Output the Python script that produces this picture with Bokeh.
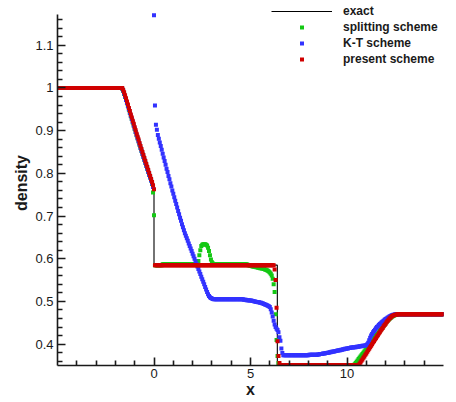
import numpy as np
from bokeh.plotting import figure
from bokeh.models import FixedTicker, Legend, LegendItem, Range1d, ColumnDataSource
from bokeh.embed import file_html
from bokeh.resources import INLINE

# ---- data -------------------------------------------------------------
# cell positions of the numerical solutions (dx = 0.05 on [-5, 15])
X_GRID = np.round(np.arange(401) * 0.05 - 5.0, 2)

# exact solution (polyline)
EXACT_X = [-5.0, -1.65, -1.0, -0.5, 0.0, 0.0, 6.39, 6.39, 10.65, 11.0, 11.5, 12.0, 12.35, 15.0]
EXACT_Y = [1.0, 1.0, 0.908, 0.836, 0.763, 0.585, 0.585, 0.351, 0.351, 0.376, 0.412, 0.447, 0.47, 0.47]

# present scheme
PRESENT_RAREFACTION = [0.996, 0.990, 0.983, 0.976, 0.968, 0.961, 0.953, 0.946, 0.938, 0.931,
                       0.923, 0.916, 0.908, 0.901, 0.893, 0.886, 0.879, 0.871, 0.864, 0.857,
                       0.850, 0.843, 0.836, 0.829, 0.822, 0.815, 0.808, 0.801, 0.794, 0.787,
                       0.780, 0.772, 0.763]
PRESENT_SHOCK = [0.575, 0.550, 0.485, 0.407, 0.372, 0.356]
PRESENT_FAN = [0.354, 0.357, 0.361, 0.364, 0.368, 0.371, 0.375, 0.378, 0.382, 0.386,
               0.389, 0.393, 0.396, 0.400, 0.404, 0.407, 0.411, 0.414, 0.418, 0.421,
               0.425, 0.428, 0.432, 0.435, 0.438, 0.442, 0.445, 0.448, 0.451, 0.454,
               0.457, 0.460, 0.462, 0.464, 0.466, 0.467, 0.468, 0.469, 0.469, 0.470]
PRESENT_Y = ([1.0] * 68 + PRESENT_RAREFACTION + [0.585] * 124 + PRESENT_SHOCK
             + [0.351] * 82 + PRESENT_FAN + [0.47] * 48)

# splitting scheme
SPLIT_RAREFACTION = [0.998, 0.993, 0.986, 0.979, 0.972, 0.964, 0.957, 0.949, 0.942, 0.934,
                     0.927, 0.919, 0.912, 0.904, 0.897, 0.889, 0.882, 0.875, 0.867, 0.860,
                     0.853, 0.846, 0.839, 0.832, 0.825, 0.818, 0.811, 0.804, 0.797, 0.790,
                     0.783, 0.775, 0.755]
SPLIT_BUMP = [0.589, 0.595, 0.608, 0.620, 0.630, 0.633, 0.634, 0.634, 0.634, 0.633,
              0.631, 0.626, 0.618, 0.608, 0.598, 0.592, 0.589]
SPLIT_SHOCK = [0.586, 0.585, 0.584, 0.583, 0.583, 0.582, 0.582, 0.581, 0.581, 0.580,
               0.580, 0.579, 0.579, 0.578, 0.578, 0.577, 0.577, 0.576, 0.575, 0.574,
               0.573, 0.572, 0.570, 0.568, 0.565, 0.561, 0.553, 0.540, 0.522, 0.470,
               0.410, 0.372, 0.356, 0.352]
SPLIT_FAN = [0.353, 0.356, 0.359, 0.362, 0.365, 0.368, 0.371, 0.374, 0.377, 0.380,
             0.383, 0.386, 0.389, 0.392, 0.395, 0.398, 0.401, 0.404, 0.407, 0.410,
             0.413, 0.416, 0.419, 0.422, 0.425, 0.428, 0.431, 0.434, 0.437, 0.440,
             0.443, 0.446, 0.449, 0.452, 0.455, 0.457, 0.459, 0.461, 0.463, 0.465,
             0.466, 0.467, 0.468, 0.469, 0.469, 0.470]
SPLIT_Y = ([1.0] * 67 + SPLIT_RAREFACTION + [0.702] + [0.585] * 8 + [0.587] * 36
           + SPLIT_BUMP + [0.587] * 35 + SPLIT_SHOCK + [0.351] * 77 + SPLIT_FAN + [0.47] * 47)

# K-T scheme
KT_RAREFACTION = [0.999, 0.994, 0.987, 0.980, 0.972, 0.965, 0.957, 0.950, 0.942, 0.935,
                  0.927, 0.920, 0.912, 0.905, 0.897, 0.890, 0.882, 0.875, 0.868, 0.860,
                  0.853, 0.846, 0.839, 0.832, 0.825, 0.818, 0.811, 0.804, 0.797, 0.790,
                  0.783, 0.776, 0.768]
KT_OVERSHOOT = [1.17]
KT_EXPANSION = [0.959, 0.914, 0.902, 0.890, 0.881, 0.872, 0.864, 0.855, 0.846, 0.837,
                0.829, 0.820, 0.811, 0.803, 0.794, 0.786, 0.777, 0.769, 0.760, 0.752,
                0.744, 0.736, 0.728, 0.720, 0.712, 0.704, 0.696, 0.689, 0.681, 0.674,
                0.667, 0.660, 0.654, 0.648, 0.642, 0.636, 0.630, 0.624, 0.618, 0.612,
                0.606, 0.600, 0.594, 0.588, 0.582, 0.576, 0.570, 0.564, 0.558, 0.552,
                0.546, 0.540, 0.534, 0.528, 0.522, 0.517, 0.513, 0.510, 0.508, 0.507,
                0.506, 0.505]
KT_PLATEAU_TAIL = [0.505, 0.505, 0.504, 0.504, 0.504, 0.503, 0.503, 0.503, 0.502, 0.502,
                   0.502, 0.501, 0.501, 0.500, 0.500, 0.499, 0.499, 0.498, 0.498, 0.497,
                   0.497, 0.496, 0.495, 0.494, 0.493, 0.492, 0.491, 0.490, 0.489]
KT_SHOCK = [0.487, 0.482, 0.474, 0.465, 0.455, 0.446, 0.440, 0.436, 0.433, 0.428,
            0.416, 0.408, 0.390, 0.379, 0.374]
KT_LOW = ([0.375] * 9
          + [0.376, 0.376, 0.377, 0.377, 0.377, 0.378, 0.378, 0.378, 0.379, 0.379]
          + [0.380, 0.380, 0.381, 0.381, 0.382, 0.382, 0.383, 0.383, 0.384, 0.384]
          + [0.385, 0.385, 0.386, 0.386, 0.387, 0.387, 0.388, 0.388, 0.389, 0.389]
          + [0.390, 0.390, 0.391, 0.391, 0.392, 0.392, 0.392, 0.393, 0.393, 0.393]
          + [0.394, 0.394, 0.394, 0.395, 0.395, 0.395, 0.396, 0.396, 0.396, 0.397])
KT_FAN = [0.398, 0.400, 0.403, 0.409, 0.415, 0.420, 0.424, 0.428, 0.431, 0.434,
          0.437, 0.440, 0.442, 0.445, 0.447, 0.449, 0.451, 0.453, 0.455, 0.457,
          0.459, 0.460, 0.462, 0.463, 0.465, 0.466, 0.467, 0.468, 0.469, 0.469, 0.470]
KT_Y = ([1.0] * 67 + KT_RAREFACTION + KT_OVERSHOOT + KT_EXPANSION + [0.505] * 28
        + KT_PLATEAU_TAIL + KT_SHOCK + [0.374] * 26 + KT_LOW + KT_FAN + [0.47] * 50)

assert len(PRESENT_Y) == len(SPLIT_Y) == len(KT_Y) == len(X_GRID)

X_MAJOR = [0, 5, 10]
X_MINOR = [-4, -3, -2, -1, 1, 2, 3, 4, 6, 7, 8, 9, 11, 12, 13, 14]
Y_MAJOR = [0.4, 0.5, 0.6, 0.7, 0.8, 0.9, 1.0, 1.1]
Y_MINOR = [0.36, 0.38, 0.42, 0.44, 0.46, 0.48, 0.52, 0.54, 0.56, 0.58, 0.62, 0.64, 0.66, 0.68,
           0.72, 0.74, 0.76, 0.78, 0.82, 0.84, 0.86, 0.88, 0.92, 0.94, 0.96, 0.98,
           1.02, 1.04, 1.06, 1.08, 1.12, 1.14, 1.16]
Y_AXIS_TOP = 1.172

GREEN = "#14c814"
BLUE = "#3232ff"
RED = "#d00000"
INK = "#1a1a1a"
FONT = "Liberation Sans"

# ---- figure -----------------------------------------------------------
# the frame reaches the top edge so the legend can sit above the axis end
p = figure(width=456, height=402, output_backend="svg", toolbar_location=None,
           x_range=Range1d(-5, 15), y_range=Range1d(0.35, 1.2048),
           min_border_left=57, min_border_right=13, min_border_top=0, min_border_bottom=37)
p.outline_line_color = None
p.grid.visible = False

exact = p.line(EXACT_X, EXACT_Y, line_color="black", line_width=1.1)
src = ColumnDataSource(dict(x=X_GRID, split=SPLIT_Y, kt=KT_Y, present=PRESENT_Y))
r_split = p.scatter("x", "split", source=src, marker="square", size=4,
                    fill_color=GREEN, line_color=None)
r_kt = p.scatter("x", "kt", source=src, marker="square", size=4,
                 fill_color=BLUE, line_color=None)
r_present = p.scatter("x", "present", source=src, marker="square", size=4,
                      fill_color=RED, line_color=None)

for ax in (p.xaxis[0], p.yaxis[0]):
    ax.axis_line_color = INK
    ax.axis_line_width = 1.6
    ax.major_tick_line_color = INK
    ax.minor_tick_line_color = INK
    ax.major_tick_line_width = 1.6
    ax.minor_tick_line_width = 1.6
    ax.major_tick_in = 8
    ax.major_tick_out = 0
    ax.minor_tick_in = 5
    ax.minor_tick_out = 0
    ax.major_label_text_font = FONT
    ax.major_label_text_font_size = "13px"
    ax.major_label_text_color = INK
    ax.axis_label_text_font = FONT
    ax.axis_label_text_font_style = "bold"
    ax.axis_label_text_font_size = "16px"
    ax.axis_label_text_color = INK

p.xaxis.ticker = FixedTicker(ticks=X_MAJOR, minor_ticks=X_MINOR)
p.yaxis.ticker = FixedTicker(ticks=Y_MAJOR, minor_ticks=Y_MINOR)
p.yaxis.bounds = (0.35, Y_AXIS_TOP)
p.yaxis.major_label_overrides = {1.0: "1"}
p.xaxis.axis_label = "x"
p.yaxis.axis_label = "density"
p.xaxis.major_label_standoff = 3
p.yaxis.major_label_standoff = 4
p.xaxis.axis_label_standoff = 0
p.yaxis.axis_label_standoff = 2

legend = Legend(items=[LegendItem(label="exact", renderers=[exact]),
                       LegendItem(label="splitting scheme", renderers=[r_split]),
                       LegendItem(label="K-T scheme", renderers=[r_kt]),
                       LegendItem(label="present scheme", renderers=[r_present])],
                location=(214, 299.5), glyph_width=61, glyph_height=10, label_height=10,
                label_standoff=11, spacing=2, padding=0, margin=0,
                background_fill_alpha=0, border_line_alpha=0,
                label_text_font=FONT, label_text_font_style="bold",
                label_text_font_size="12px", label_text_color=INK)
p.add_layout(legend, "center")

open("out.html", "w").write(file_html(p, INLINE))
